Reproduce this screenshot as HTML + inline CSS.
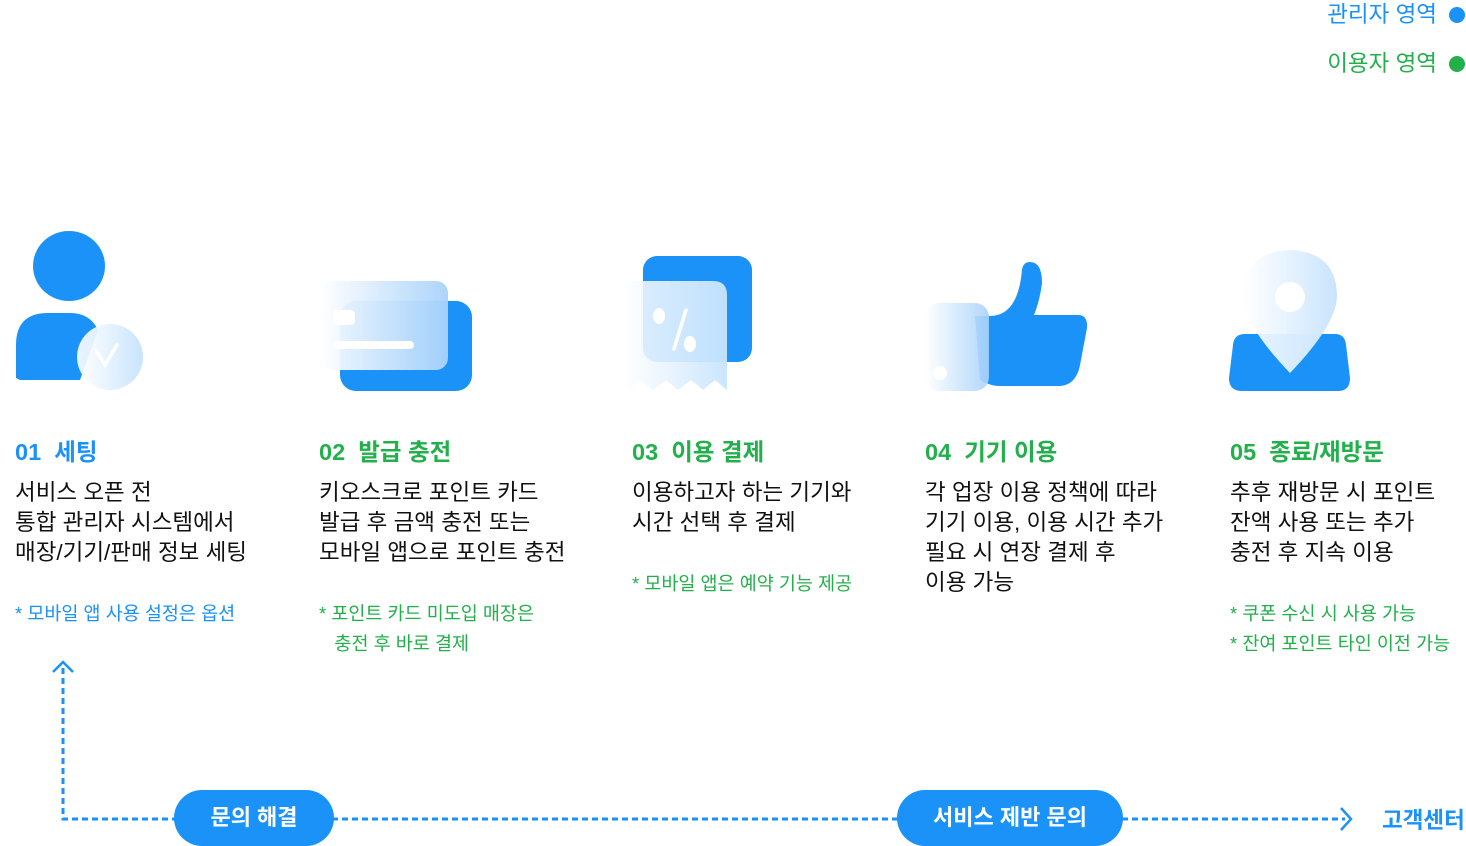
<!DOCTYPE html>
<html><head><meta charset="utf-8"><style>
body{margin:0;width:1466px;height:846px;position:relative;background:#fff;overflow:hidden;font-family:"Liberation Sans","Noto Sans CJK KR",sans-serif}
.a{position:absolute;white-space:nowrap}
.t{font-size:23.5px;font-weight:bold;line-height:30px}
.b{font-size:22.5px;line-height:30px;color:#111}
.n{font-size:18.5px;line-height:30px}
.bl{color:#1a92f8}.gr{color:#22b04b}
.pill{position:absolute;background:#1a92f8;color:#fff;font-weight:bold;font-size:22px;border-radius:28px;height:56px;line-height:56px;text-align:center}
</style></head><body>
<div class="a bl" style="right:29px;top:0;font-size:22.5px;line-height:30px">관리자 영역</div>
<div class="a" style="left:1449px;top:7px;width:16px;height:16px;border-radius:50%;background:#1a92f8"></div>
<div class="a gr" style="right:29px;top:49px;font-size:22.5px;line-height:30px">이용자 영역</div>
<div class="a" style="left:1449px;top:56px;width:16px;height:16px;border-radius:50%;background:#22b04b"></div>

<svg class="a" style="left:0;top:0" width="1466" height="846">
<defs>
<linearGradient id="g1" x1="0" x2="1"><stop offset="0" stop-color="#fff"/><stop offset="1" stop-color="#a8d2fb"/></linearGradient>
<linearGradient id="g2" x1="0" x2="1" y1="0" y2="0"><stop offset="0" stop-color="#fff" stop-opacity=".9"/><stop offset="1" stop-color="#c8e4fd"/></linearGradient>
</defs>
<ellipse cx="69" cy="266" rx="36" ry="35" fill="#1a92f8"/>
<path d="M16 378 V345 Q16 313 48 313 H70 Q90 313 98 330 L80 380 H20 Z" fill="#1a92f8"/>
<ellipse cx="110" cy="357" rx="33" ry="33" fill="url(#g2)"/>
<path d="M96 350 L105 365 L117 345" stroke="#fff" stroke-width="3.5" fill="none" stroke-linecap="round"/>
<rect x="340" y="301" width="132" height="90" rx="16" fill="#1a92f8"/>
<rect x="320" y="281" width="128" height="89" rx="12" fill="url(#g1)" opacity=".95"/>
<rect x="333" y="310" width="22" height="15" rx="4" fill="#fff"/>
<rect x="333" y="341" width="81" height="8" rx="4" fill="#fff"/>
<rect x="643" y="256" width="109" height="106" rx="14" fill="#1a92f8"/>
<path d="M622 295 Q622 281 636 281 H713 Q727 281 727 295 V390 L715 380 L703 390 L691 380 L678 390 L666 380 L653 390 L640 380 L628 390 L622 385 Z" fill="url(#g2)" opacity=".95"/>
<ellipse cx="659" cy="316" rx="6" ry="8" fill="#fff"/><ellipse cx="690" cy="344" rx="6" ry="8" fill="#fff"/>
<path d="M686 310 L674 349" stroke="#fff" stroke-width="3.5" stroke-linecap="round"/>
<path d="M975 316 H990 Q1018 316 1022 270 Q1023 262 1030 262 Q1042 262 1042 283 Q1040 300 1034 315 H1078 Q1088 315 1087 328 L1080 365 Q1076 385 1060 386 H1000 Q990 386 980 380 Z" fill="#1a92f8"/>
<rect x="925" y="303" width="64" height="88" rx="14" fill="url(#g1)" opacity=".9"/>
<circle cx="940" cy="373" r="7" fill="#fff"/>
<path d="M1245 334 H1335 Q1345 334 1346 345 L1350 378 Q1350 391 1338 391 H1242 Q1229 391 1229 378 L1233 345 Q1234 334 1245 334 Z" fill="#1a92f8"/>
<path d="M1290 250 Q1337 252 1337 297 Q1336 325 1290 373 Q1244 325 1243 297 Q1243 252 1290 250 Z" fill="url(#g2)"/>
<circle cx="1290" cy="297" r="15" fill="#fff"/>
<path d="M63 668 V819 H1345" stroke="#1a92f8" stroke-width="3" stroke-dasharray="6 4" fill="none"/>
<path d="M53 672 L63 662 L73 672" stroke="#1a92f8" stroke-width="2.5" fill="none"/>
<path d="M1341 808 L1351 819 L1341 830" stroke="#1a92f8" stroke-width="2.5" fill="none"/>
</svg>

<div class="a t bl" style="left:15px;top:437px">01&nbsp; 세팅</div>
<div class="a b" style="left:15px;top:478px">서비스 오픈 전<br>통합 관리자 시스템에서<br>매장/기기/판매 정보 세팅</div>
<div class="a n bl" style="left:15px;top:599px">* 모바일 앱 사용 설정은 옵션</div>

<div class="a t gr" style="left:319px;top:437px">02&nbsp; 발급 충전</div>
<div class="a b" style="left:319px;top:478px">키오스크로 포인트 카드<br>발급 후 금액 충전 또는<br>모바일 앱으로 포인트 충전</div>
<div class="a n gr" style="left:319px;top:599px">* 포인트 카드 미도입 매장은<br>&nbsp;&nbsp;&nbsp;충전 후 바로 결제</div>

<div class="a t gr" style="left:632px;top:437px">03&nbsp; 이용 결제</div>
<div class="a b" style="left:632px;top:478px">이용하고자 하는 기기와<br>시간 선택 후 결제</div>
<div class="a n gr" style="left:632px;top:569px">* 모바일 앱은 예약 기능 제공</div>

<div class="a t gr" style="left:925px;top:437px">04&nbsp; 기기 이용</div>
<div class="a b" style="left:925px;top:478px">각 업장 이용 정책에 따라<br>기기 이용, 이용 시간 추가<br>필요 시 연장 결제 후<br>이용 가능</div>

<div class="a t gr" style="left:1230px;top:437px">05&nbsp; 종료/재방문</div>
<div class="a b" style="left:1230px;top:478px">추후 재방문 시 포인트<br>잔액 사용 또는 추가<br>충전 후 지속 이용</div>
<div class="a n gr" style="left:1230px;top:599px">* 쿠폰 수신 시 사용 가능<br>* 잔여 포인트 타인 이전 가능</div>

<div class="pill" style="left:174px;top:790px;width:160px">문의 해결</div>
<div class="pill" style="left:897px;top:790px;width:226px">서비스 제반 문의</div>
<div class="a bl" style="left:1382px;top:806px;font-size:22.5px;font-weight:bold;line-height:30px">고객센터</div>
</body></html>
